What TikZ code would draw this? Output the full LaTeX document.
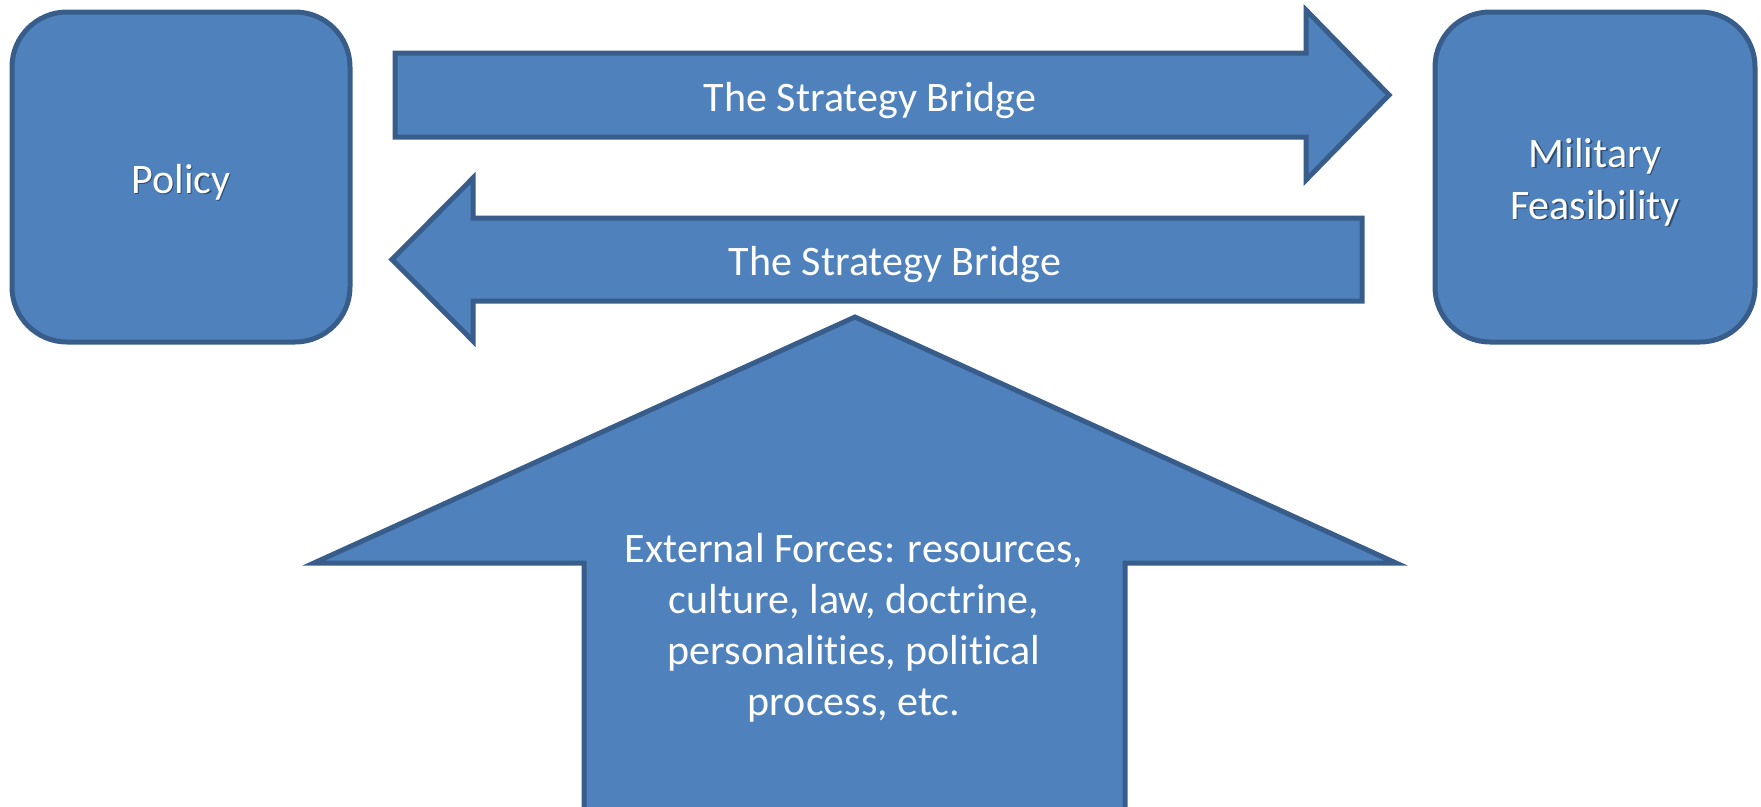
\documentclass[tikz,border=0pt]{standalone}
\usepackage{fontspec}
\setmainfont[Ligatures=NoCommon]{Carlito}
\definecolor{fillblue}{HTML}{4F81BD}
\definecolor{edgeblue}{HTML}{385D8A}
\definecolor{shadowblue}{HTML}{2F4D71}
\newcommand\shtxt[1]{\leavevmode\rlap{\hspace{1.5pt}\raisebox{-1.5pt}{\color{shadowblue}#1}}#1}
\begin{document}
\begin{tikzpicture}[x=1pt,y=-1pt,
  shapestyle/.style={fill=fillblue,draw=edgeblue,line width=5pt,line join=miter},
  boxstyle/.style={shapestyle,rounded corners=55pt,minimum width=338pt,minimum height=330pt,inner sep=0pt},
  lbl/.style={text=white,font=\fontsize{42}{51}\selectfont,align=center}]
\clip (0,0) rectangle (1761,806);
\node[boxstyle] (policy) at (181,177) {};
\node[boxstyle,minimum width=320pt] (military) at (1595,177) {};
\node[lbl] (policytext) at (181,183) {\shtxt{Policy}};
\node[lbl,font=\fontsize{42}{52}\selectfont] (militarytext) at (1595,183) {\shtxt{Military}\\\shtxt{Feasibility}};
\draw[shapestyle] (395,53) -- (1306,53) -- (1306,10) -- (1389,95) -- (1306,180) -- (1306,137) -- (395,137) -- cycle;
\draw[shapestyle] (1362,218) -- (473,218) -- (473,178) -- (392,259.5) -- (473,341) -- (473,301) -- (1362,301) -- cycle;
\draw[shapestyle] (855,317) -- (1396,563) -- (1125,563) -- (1125,830) -- (584,830) -- (584,563) -- (314,563) -- cycle;
\node[lbl] (bridge1) at (870,101) {The Strategy Bridge};
\node[lbl] (bridge2) at (895,265) {The Strategy Bridge};
\node[lbl] (forces) at (854,628) {External Forces: resources,\\culture, law, doctrine,\\personalities, political\\process, etc.};
\end{tikzpicture}
\end{document}
